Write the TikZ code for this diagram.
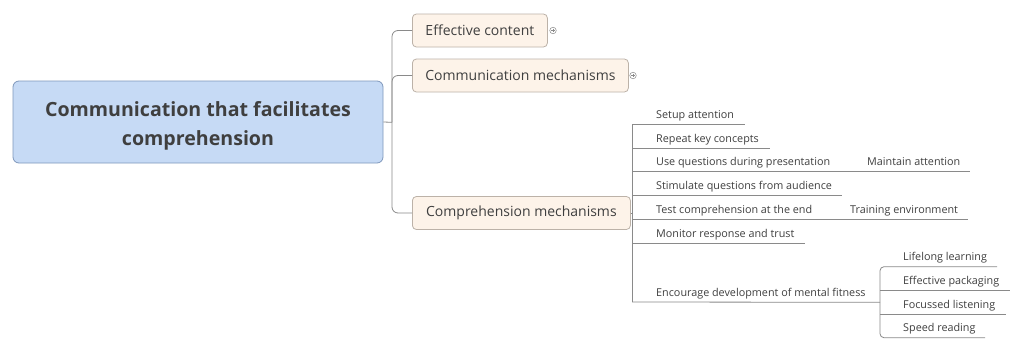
\documentclass[tikz,border=0pt]{standalone}
\usepackage{fontspec}
\usetikzlibrary{calc}
\setmainfont{Open Sans}
\definecolor{cfill}{HTML}{C6DAF5}
\definecolor{cdraw}{HTML}{7F98BC}
\definecolor{bfill}{HTML}{FDF3E9}
\definecolor{bdraw}{HTML}{BCB2A8}
\definecolor{txt}{HTML}{3F3F3F}
\definecolor{ln}{HTML}{8A8A8A}
\begin{document}
\begin{tikzpicture}[x=1pt,y=-1pt,
  central/.style={draw=cdraw, fill=cfill, rounded corners=6pt, line width=0.8pt,
    minimum width=370pt, minimum height=82pt, inner sep=0pt},
  centrallab/.style={text=txt, font=\fontsize{19.6}{29}\selectfont\bfseries, align=center, anchor=base, inner sep=0pt},
  branch/.style={draw=bdraw, fill=bfill, rounded corners=4pt, line width=0.8pt,
    minimum height=33pt, inner sep=0pt, text=txt, font=\fontsize{14}{16}\selectfont},
  leaf/.style={anchor=base west, inner sep=0pt, text=txt, font=\fontsize{10.8}{12}\selectfont},
  conn/.style={draw=ln, line width=0.8pt},
  plusicon/.style={circle, draw=ln, line width=0.5pt, minimum size=6.5pt, inner sep=0pt}
]
\useasboundingbox (0,0) rectangle (1024,351);
\fill[white] (0,0) rectangle (1024,351);

% central
\node[central] (root) at (198,122) {};
\node[centrallab] (rootlab) at (198,145) {Communication that facilitates\\comprehension};

% branches
\node[branch, anchor=west, minimum width=135pt] (ec) at (412,30.5) {Effective content};
\node[branch, anchor=west, minimum width=216pt] (cm) at (412,75.5) {Communication mechanisms};
\node[branch, anchor=west, minimum width=218pt] (cp) at (412,213) {Comprehension mechanisms};

% plus icons
\node[plusicon] (p1) at (553,30.5) {};
\draw[ln, line width=0.5pt] ($(p1)+(-1.8,0)$) -- ($(p1)+(1.8,0)$) ($(p1)+(0,-1.8)$) -- ($(p1)+(0,1.8)$);
\node[plusicon] (p2) at (633,75.5) {};
\draw[ln, line width=0.5pt] ($(p2)+(-1.8,0)$) -- ($(p2)+(1.8,0)$) ($(p2)+(0,-1.8)$) -- ($(p2)+(0,1.8)$);

% root connectors
\coordinate (rj) at (392,122.3);
\draw[conn] (root.east) -- (rj);
\draw[conn, rounded corners=6pt] (rj) |- (ec.west);
\draw[conn, rounded corners=6pt] (rj) |- (cm.west);
\draw[conn, rounded corners=6pt] (rj) |- (cp.west);

% comprehension children
\coordinate (t1) at (632,124);
\coordinate (t7) at (632,302);
\draw[conn] (cp.east) -- (632,213);
\draw[conn] (t1) -- (t7);

\node[leaf] (a1) at (656,118) {Setup attention};
\coordinate (e1) at (745,124);
\draw[conn] (t1) -- (e1);

\node[leaf] (a2) at (656,142.3) {Repeat key concepts};
\coordinate (s2) at (632,148.3); \coordinate (e2) at (770,148.3);
\draw[conn] (s2) -- (e2);

\node[leaf] (a3) at (656,165.7) {Use questions during presentation};
\coordinate (s3) at (632,171.7); \coordinate (m3) at (856,171.7); \coordinate (e3) at (970,171.7);
\draw[conn] (s3) -- (m3);
\node[leaf] (a3b) at (867,165.7) {Maintain attention};
\draw[conn] (m3) -- (e3);

\node[leaf] (a4) at (656,189.7) {Stimulate questions from audience};
\coordinate (s4) at (632,195.7); \coordinate (e4) at (842,195.7);
\draw[conn] (s4) -- (e4);

\node[leaf] (a5) at (656,213.3) {Test comprehension at the end};
\coordinate (s5) at (632,219.3); \coordinate (m5) at (838,219.3); \coordinate (e5) at (968,219.3);
\draw[conn] (s5) -- (m5);
\node[leaf] (a5b) at (850,213.3) {Training environment};
\draw[conn] (m5) -- (e5);

\node[leaf] (a6) at (656,237.3) {Monitor response and trust};
\coordinate (s6) at (632,243.3); \coordinate (e6) at (805,243.3);
\draw[conn] (s6) -- (e6);

\node[leaf] (a7) at (656,296.3) {Encourage development of mental fitness};
\coordinate (j7) at (880,302.3);
\draw[conn] (t7) -- (j7);

% mental fitness children
\node[leaf] (b1) at (903,260.7) {Lifelong learning};
\coordinate (f1) at (997,266.7);
\node[leaf] (b2) at (903,284.7) {Effective packaging};
\coordinate (f2) at (1010,290.7); \coordinate (g2) at (880,290.7);
\node[leaf] (b3) at (903,308) {Focussed listening};
\coordinate (f3) at (1006,314); \coordinate (g3) at (880,314);
\node[leaf] (b4) at (903,331.7) {Speed reading};
\coordinate (f4) at (985,337.7);
\draw[conn, rounded corners=4pt] (f1) -- (880,266.7) -- (880,337.7) -- (f4);
\draw[conn] (g2) -- (f2);
\draw[conn] (g3) -- (f3);
\end{tikzpicture}
\end{document}
